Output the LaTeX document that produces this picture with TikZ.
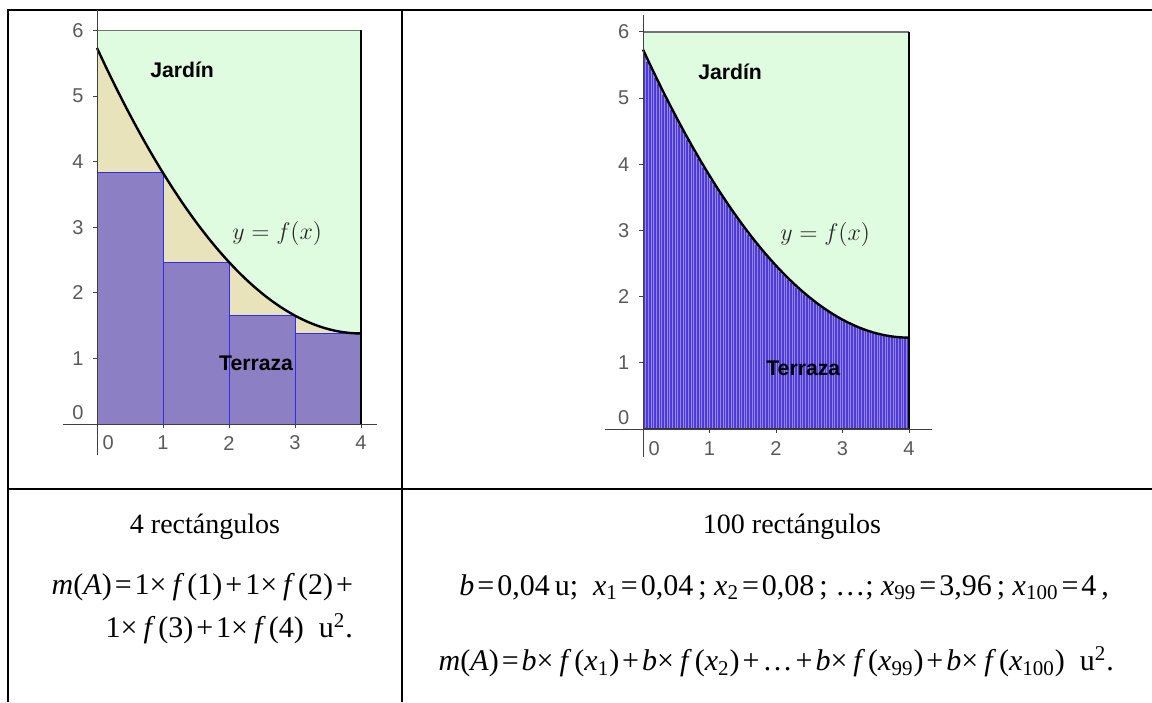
\documentclass[tikz,border=0pt]{standalone}
\usepackage{fontspec}
\setmainfont{Liberation Serif}
\setsansfont{Liberation Sans}
\usetikzlibrary{positioning}
\definecolor{jardin}{RGB}{224,252,224}
\definecolor{resto}{RGB}{232,227,186}
\definecolor{rectcuatro}{RGB}{140,127,195}
\definecolor{bordecuatro}{RGB}{45,45,235}
\definecolor{rectcien}{RGB}{80,58,214}
\definecolor{raya}{RGB}{145,135,230}
\newcommand{\esp}{\kern0.1em}
\newcommand{\por}{×\kern0.2em}

\begin{document}
\begin{tikzpicture}[x=0.5pt,y=-0.5pt,declare function={f(\t)=0.272*(\t-4)^2+1.38;},tabla/.style={line width=1pt},eje/.style={black!75,line width=0.5pt},etiq/.style={font=\sffamily\fontsize{10}{11}\selectfont,text=black!65},zona/.style={font=\sffamily\bfseries\fontsize{10.6}{12}\selectfont},curva/.style={line width=1.2pt},ecuac/.style={font=\fontsize{12.8}{14}\selectfont,text=black!85},titulo/.style={font=\fontsize{14}{17}\selectfont},formula/.style={font=\fontsize{15}{18}\selectfont}]
\useasboundingbox (0,0) rectangle (1152,702);
\draw[tabla] (8,702) -- (8,10) -- (1152,10);
\draw[tabla] (402,10) -- (402,702);
\draw[tabla] (8,489) -- (1152,489);
\begin{scope}[shift={(97,424)},x=33pt,y=32.8pt]
\fill[jardin] (0,0) rectangle (4,6);
\fill[resto] (0,0) -- plot[domain=0:4,samples=60] (\x,{f(\x)}) -- (4,0) -- cycle;
\foreach \i in {1,...,4} \filldraw[fill=rectcuatro,draw=bordecuatro,line width=0.5pt] (\i-1,0) rectangle (\i,{f(\i)});
\draw[black!55,line width=0.8pt] (0,6) -- (4,6);
\draw[line width=0.9pt] (4,6) -- (4,0);
\draw[curva] plot[domain=0:4,samples=60] (\x,{f(\x)});
\draw[eje] (-0.52,0) -- (4.24,0);
\draw[eje] (0,-0.47) -- (0,6.31);
\foreach \k in {1,...,6} \draw[eje] (0,\k) -- (-0.06,\k) node[etiq] (yA\k) at (-0.29,\k) {\k};
\foreach \k in {1,...,4} \draw[eje] (\k,0) -- (\k,-0.06) node[etiq] (xA\k) at (\k,-0.29) {\k};
\node[etiq] (yA0) at (-0.29,0.17) {0};
\node[etiq] (xA0) at (0.17,-0.29) {0};
\node[zona] (jardinA) at (1.29,5.40) {Jardín};
\node[zona] (terrazaA) at (2.41,0.93) {Terraza};
\node[ecuac] (curvaA) at (2.73,2.91) {$y=f(x)$};
\end{scope}
\begin{scope}[shift={(643,429)},x=33.25pt,y=33.1pt]
\fill[jardin] (0,0) rectangle (4,6);
\fill[resto] (0,0) -- plot[domain=0:4,samples=60] (\x,{f(\x)}) -- (4,0) -- cycle;
\foreach \i in {1,...,100} \filldraw[fill=rectcien,draw=raya,line width=0.25pt] ({(\i-1)*0.04},0) rectangle ({\i*0.04},{f(\i*0.04)});
\draw[black!55,line width=0.8pt] (0,6) -- (4,6);
\draw[line width=0.9pt] (4,6) -- (4,0);
\draw[line width=0.8pt,black!80] (0,0) -- (4,0);
\draw[curva] plot[domain=0:4,samples=60] (\x,{f(\x)});
\draw[eje] (-0.57,0) -- (4.35,0);
\draw[eje] (0,-0.42) -- (0,6.25);
\foreach \k in {1,...,6} \draw[eje] (0,\k) -- (-0.06,\k) node[etiq] (yB\k) at (-0.29,\k) {\k};
\foreach \k in {1,...,4} \draw[eje] (\k,0) -- (\k,-0.06) node[etiq] (xB\k) at (\k,-0.29) {\k};
\node[etiq] (yB0) at (-0.29,0.17) {0};
\node[etiq] (xB0) at (0.17,-0.29) {0};
\node[zona] (jardinB) at (1.31,5.39) {Jardín};
\node[zona] (terrazaB) at (2.41,0.92) {Terraza};
\node[ecuac] (curvaB) at (2.74,2.94) {$y=f(x)$};
\end{scope}
\node[titulo] (tituloA) at (205,527) {4 rectángulos};
\node[formula,anchor=east] (sumaA) at (360,587) {\textit{m}(\textit{A})\esp=\esp1\por\textit{f}\esp(1)\esp+\esp1\por\textit{f}\esp(2)\esp+};
\node[formula,anchor=east] (sumaAbis) at (360,629) {1\por\textit{f}\esp(3)\esp+\esp1\por\textit{f}\esp(4)\ \ u\textsuperscript{2}.};
\node[titulo] (tituloB) at (792,527) {100 rectángulos};
\node[formula,anchor=east] (datosB) at (1116,587) {\textit{b}\esp=\esp0,04\,u;\ \ \textit{x}\textsubscript{1}\esp=\esp0,04\,;\ \textit{x}\textsubscript{2}\esp=\esp0,08\,;\ …;\ \textit{x}\textsubscript{99}\esp=\esp3,96\,;\ \textit{x}\textsubscript{100}\esp=\esp4\,,};
\node[formula,anchor=east] (sumaB) at (1121,662) {\textit{m}(\textit{A})\esp=\esp\textit{b}\por\textit{f}\esp(\textit{x}\textsubscript{1})\esp+\esp\textit{b}\por\textit{f}\esp(\textit{x}\textsubscript{2})\esp+\esp…\esp+\esp\textit{b}\por\textit{f}\esp(\textit{x}\textsubscript{99})\esp+\esp\textit{b}\por\textit{f}\esp(\textit{x}\textsubscript{100})\ \ u\textsuperscript{2}.};
\end{tikzpicture}
\end{document}
